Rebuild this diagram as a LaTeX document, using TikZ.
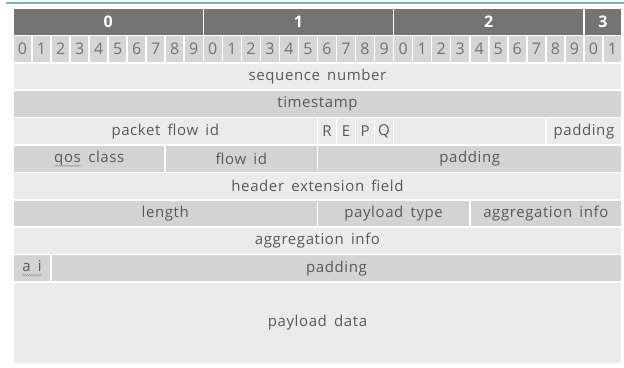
\documentclass[tikz,border=0pt]{standalone}
\usepackage{fontspec}
\setmainfont{Open Sans}[WordSpace=1.6, LetterSpace=4]
\usetikzlibrary{decorations.pathmorphing}

\definecolor{rulecol}{HTML}{88ACC6}
\definecolor{headfill}{HTML}{747474}
\definecolor{bitfill}{HTML}{D5D5D5}
\definecolor{lightfill}{HTML}{EBEBEB}
\definecolor{darkfill}{HTML}{D3D3D3}
\definecolor{txtgray}{HTML}{595959}

\tikzstyle{cell} = [draw=white, line width=1.6pt, rectangle, inner sep=0pt,
    text=txtgray, font=\fontsize{15}{17}\selectfont]
\tikzstyle{headcell} = [cell, fill=headfill, text=white,
    font=\fontsize{16}{18}\selectfont\bfseries]
\tikzstyle{bitcell} = [cell, fill=bitfill, text=txtgray!85,
    font=\fontsize{16}{18}\selectfont]
\tikzstyle{lightcell} = [cell, fill=lightfill]
\tikzstyle{darkcell} = [cell, fill=darkfill]

% field: name, first bit, last bit, row, style, text
\newcommand{\pfield}[6]{%
  \node [#5, minimum width={(#3-#2+1)*19.03pt}, minimum height=27.4pt]
    (#1) at ({13+(#2+#3+1)/2*19.03}, {8+(#4+0.5)*27.4}) {#6};}

% wavy spell-check mark under a word
\newcommand{\spellmark}[1]{\tikz[baseline=(sp.base)]{%
  \node [inner sep=0pt, outer sep=0pt, minimum width=0pt, minimum height=0pt,
    draw=none, fill=none] (sp) {#1};
  \draw [gray!80, line width=0.5pt, decorate,
    decoration={snake, amplitude=0.6pt, segment length=2.2pt}]
    ([yshift=-3.5pt]sp.base west) -- ([yshift=-3.5pt]sp.base east);}}

\begin{document}
\begin{tikzpicture}[x=1pt, y=-1pt]
    \useasboundingbox (0,0) rectangle (624,367);
    \coordinate (rl) at (6,3);
    \coordinate (rr) at (624,3);
    \draw [rulecol, line width=2pt] (rl) -- (rr);

    % octet header
    \pfield{h0}{0}{9}{0}{headcell}{0}
    \pfield{h1}{10}{19}{0}{headcell}{1}
    \pfield{h2}{20}{29}{0}{headcell}{2}
    \pfield{h3}{30}{31}{0}{headcell}{3}

    % bit numbers
    \foreach \b in {0,...,31} {
        \pgfmathtruncatemacro{\d}{mod(\b,10)}
        \pfield{bit\b}{\b}{\b}{1}{bitcell}{\d}
    }

    \pfield{seq}{0}{31}{2}{lightcell}{sequence number}
    \pfield{stamp}{0}{31}{3}{darkcell}{timestamp}

    \pfield{pflow}{0}{15}{4}{lightcell}{packet flow id}
    \pfield{flagr}{16}{16}{4}{lightcell}{R}
    \pfield{flage}{17}{17}{4}{lightcell}{E}
    \pfield{flagp}{18}{18}{4}{lightcell}{P}
    \pfield{flagq}{19}{19}{4}{lightcell}{Q}
    \pfield{blank}{20}{27}{4}{lightcell}{}
    \pfield{padA}{28}{31}{4}{lightcell}{padding}

    \pfield{qos}{0}{7}{5}{darkcell}{\spellmark{qos} class}
    \pfield{flow}{8}{15}{5}{darkcell}{flow id}
    \pfield{padB}{16}{31}{5}{darkcell}{padding}

    \pfield{hext}{0}{31}{6}{lightcell}{header extension field}

    \pfield{len}{0}{15}{7}{darkcell}{length}
    \pfield{ptype}{16}{23}{7}{darkcell}{payload type}
    \pfield{aggA}{24}{31}{7}{darkcell}{aggregation info}

    \pfield{aggB}{0}{31}{8}{lightcell}{aggregation info}

    \pfield{ai}{0}{1}{9}{darkcell}{\spellmark{a i}}
    \pfield{padC}{2}{31}{9}{darkcell}{padding}

    \node [lightcell, minimum width=608.96pt, minimum height=82pt]
        (data) at (317.48,323) {payload data};
\end{tikzpicture}
\end{document}
